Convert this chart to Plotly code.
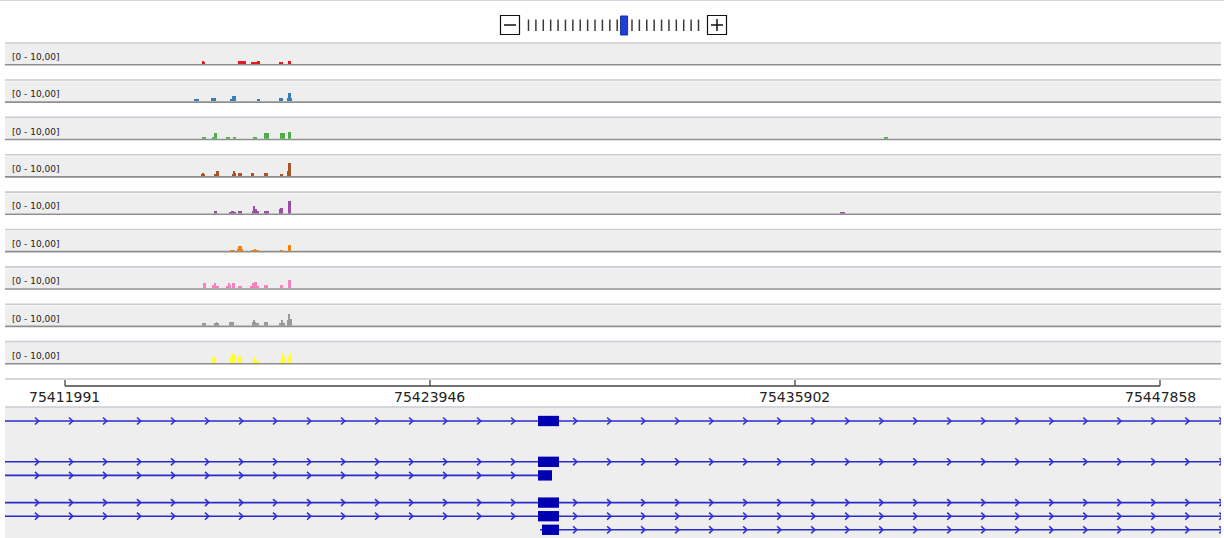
import plotly.graph_objects as go

# ---------------- data ----------------
view_start, view_end = 75410026, 75449856
ruler_ticks = [75411991, 75423946, 75435902, 75447858]
track_label = "[0 - 10,00]"
data_min, data_max = 0, 10

track_colors = ["#e41a1c", "#377eb8", "#4daf4a", "#a65628", "#984ea3",
                "#ff7f00", "#f781bf", "#999999", "#ffff33"]

# (start, end, value)
red_bins = [(75416479, 75416544, 1.7), (75416544, 75416577, 1.2),
            (75417658, 75417822, 1.7), (75417822, 75417920, 1.3),
            (75418084, 75418280, 1.2), (75418280, 75418379, 1.7),
            (75419001, 75419132, 1.2), (75419296, 75419394, 1.7)]
blue_bins = [(75416217, 75416380, 1.2), (75416774, 75416937, 1.5),
             (75417396, 75417461, 1.0), (75417461, 75417592, 2.5),
             (75418280, 75418379, 1.0), (75419001, 75419132, 1.5),
             (75419263, 75419296, 1.5), (75419296, 75419394, 4.0),
             (75419394, 75419427, 1.5)]
green_bins = [(75416479, 75416610, 0.7), (75416806, 75416872, 0.7),
              (75416872, 75416970, 2.7), (75417265, 75417396, 0.7),
              (75417494, 75417592, 0.7), (75418149, 75418280, 0.7),
              (75418510, 75418673, 2.7), (75419034, 75419197, 2.7),
              (75419296, 75419394, 3.2), (75438818, 75438949, 1.0)]
brown_bins = [(75416446, 75416479, 1.0), (75416479, 75416544, 1.5),
              (75416544, 75416577, 1.0), (75416872, 75416937, 1.0),
              (75416937, 75417036, 2.5), (75417461, 75417494, 1.0),
              (75417494, 75417560, 2.5), (75417560, 75417592, 1.5),
              (75417658, 75417789, 1.5), (75418084, 75418182, 1.5),
              (75418510, 75418641, 1.5), (75419034, 75419132, 1.0),
              (75419263, 75419296, 2.5), (75419296, 75419394, 6.5)]
purple_bins = [(75416872, 75416970, 1.5), (75417363, 75417429, 1.0),
               (75417429, 75417527, 1.5), (75417527, 75417592, 1.0),
               (75417658, 75417789, 1.5), (75418116, 75418149, 1.5),
               (75418149, 75418215, 4.0), (75418215, 75418280, 2.5),
               (75418280, 75418346, 1.5), (75418510, 75418673, 1.5),
               (75419001, 75419034, 2.5), (75419034, 75419132, 3.0),
               (75419296, 75419394, 6.5), (75437376, 75437540, 1.0)]
orange_bins = [(75417396, 75417560, 0.5), (75417625, 75417658, 1.0),
               (75417658, 75417789, 2.5), (75417789, 75417822, 1.0),
               (75418084, 75418182, 0.5), (75418182, 75418248, 1.0),
               (75418248, 75418346, 0.5), (75419034, 75419132, 0.5),
               (75419296, 75419394, 3.0)]
pink_bins = [(75416512, 75416610, 2.7), (75416806, 75416872, 1.7),
             (75416872, 75416937, 2.7), (75416937, 75417036, 1.2),
             (75417265, 75417330, 1.2), (75417330, 75417396, 2.7),
             (75417396, 75417429, 1.7), (75417461, 75417560, 2.7),
             (75417658, 75417789, 1.2), (75418051, 75418116, 1.2),
             (75418116, 75418182, 2.7), (75418182, 75418280, 3.2),
             (75418280, 75418346, 1.2), (75418510, 75418641, 1.7),
             (75419034, 75419132, 1.7), (75419296, 75419394, 4.2)]
gray_bins = [(75416479, 75416610, 1.2), (75416872, 75416937, 1.2),
             (75416937, 75416970, 1.7), (75416970, 75417036, 1.2),
             (75417363, 75417527, 1.7), (75418116, 75418149, 1.7),
             (75418149, 75418215, 2.7), (75418215, 75418248, 1.7),
             (75418248, 75418346, 1.2), (75418510, 75418641, 1.7),
             (75419001, 75419066, 1.2), (75419066, 75419132, 2.7),
             (75419132, 75419197, 1.2), (75419263, 75419296, 2.7),
             (75419296, 75419361, 5.7), (75419361, 75419427, 3.2)]
yellow_bins = [(75416806, 75416937, 3.0), (75417396, 75417461, 3.0),
               (75417461, 75417527, 5.0), (75417527, 75417592, 4.0),
               (75417625, 75417789, 3.5), (75418084, 75418149, 1.0),
               (75418149, 75418215, 3.0), (75418215, 75418346, 1.0),
               (75419001, 75419066, 1.0), (75419066, 75419132, 5.0),
               (75419132, 75419230, 3.0), (75419263, 75419328, 3.0),
               (75419328, 75419394, 5.0), (75419394, 75419427, 1.0)]

tracks = [red_bins, blue_bins, green_bins, brown_bins, purple_bins,
          orange_bins, pink_bins, gray_bins, yellow_bins]

# gene features (expanded rows)
gene_rows = [0, 3, 4, 6, 7, 8]
gene_starts = [75400000, 75400000, 75400000, 75400000, 75400000, 75427550]
gene_ends = [75460000, 75460000, 75427943, 75460000, 75460000, 75460000]
exon_starts = [75427484, 75427484, 75427484, 75427484, 75427484, 75427615]
exon_ends = [75428172, 75428172, 75427943, 75428172, 75428172, 75428172]

# ---------------- layout helpers ----------------
W, H = 1224, 538
ML, MR, MT, MB = 5, 3, 8, 0
PW, PH = W - ML - MR, H - MT - MB


def pxx(x):
    return (x - ML) / PW


def pxy(y):
    return (H - MB - y) / PH


BG = "#eeeeee"
SEP = "#cacad3"
BASE = "#8e8e8e"

fig = go.Figure()
shapes = []
annotations = []
layout_axes = {}

# ---------------- data tracks ----------------
baseline0, track_step, track_px = 64, 37.375, 20
for i, (bins, col) in enumerate(zip(tracks, track_colors)):
    b = baseline0 + track_step * i
    ax = f"yaxis{i + 2}"
    layout_axes[ax] = dict(domain=[pxy(b), pxy(b - track_px)],
                           range=[data_min, data_max], visible=False,
                           fixedrange=True)
    fig.add_trace(go.Bar(
        x=[(s + e) / 2 for s, e, v in bins],
        width=[e - s for s, e, v in bins],
        y=[v for s, e, v in bins],
        base=0, marker=dict(color=col, line=dict(width=0)),
        xaxis="x", yaxis=f"y{i + 2}", showlegend=False, hoverinfo="skip"))
    # baseline
    shapes.append(dict(type="line", xref="paper", yref="paper", x0=0, x1=1,
                       y0=pxy(b + 0.75), y1=pxy(b + 0.75),
                       line=dict(color=BASE, width=1.6), layer="below"))
    # separator under track
    ys = b + 16
    shapes.append(dict(type="line", xref="paper", yref="paper", x0=0, x1=1,
                       y0=pxy(ys), y1=pxy(ys),
                       line=dict(color=SEP, width=1.6), layer="below"))
    annotations.append(dict(text=track_label, xref="paper", yref="paper",
                            x=pxx(9.5), y=pxy(b - 7), xanchor="left",
                            yanchor="middle", showarrow=False,
                            font=dict(family="DejaVu Sans", size=9,
                                      color="#222222")))

# top separator and ruler/gene separator
for ysep in (43, 407):
    shapes.append(dict(type="line", xref="paper", yref="paper", x0=0, x1=1,
                       y0=pxy(ysep), y1=pxy(ysep),
                       line=dict(color=SEP, width=1.6), layer="below"))

# top white band edge
shapes.append(dict(type="line", xref="paper", yref="paper",
                   x0=pxx(0), x1=pxx(W), y0=pxy(0.5), y1=pxy(0.5),
                   line=dict(color="#d8d8d8", width=1)))

# ---------------- ruler ----------------
ruler_y, tick_top = 386, 380
shapes.append(dict(type="line", xref="x", yref="paper",
                   x0=ruler_ticks[0], x1=ruler_ticks[-1],
                   y0=pxy(ruler_y), y1=pxy(ruler_y),
                   line=dict(color="#444444", width=1.3)))
for t in ruler_ticks:
    shapes.append(dict(type="line", xref="x", yref="paper", x0=t, x1=t,
                       y0=pxy(ruler_y), y1=pxy(tick_top),
                       line=dict(color="#444444", width=1.3)))
    annotations.append(dict(text=str(t), xref="x", yref="paper", x=t,
                            y=pxy(396.5), xanchor="center", yanchor="middle",
                            showarrow=False,
                            font=dict(family="DejaVu Sans", size=14,
                                      color="#222222")))

# ---------------- zoom widget ----------------
shapes.append(dict(type="rect", xref="paper", yref="paper",
                   x0=pxx(500.5), x1=pxx(519.5), y0=pxy(15.5), y1=pxy(34.5),
                   line=dict(color="#111111", width=1.2)))
shapes.append(dict(type="line", xref="paper", yref="paper",
                   x0=pxx(504), x1=pxx(516), y0=pxy(25), y1=pxy(25),
                   line=dict(color="#111111", width=1.5)))
shapes.append(dict(type="rect", xref="paper", yref="paper",
                   x0=pxx(707.5), x1=pxx(726.5), y0=pxy(15.5), y1=pxy(34.5),
                   line=dict(color="#111111", width=1.2)))
shapes.append(dict(type="line", xref="paper", yref="paper",
                   x0=pxx(711), x1=pxx(723), y0=pxy(25), y1=pxy(25),
                   line=dict(color="#111111", width=1.5)))
shapes.append(dict(type="line", xref="paper", yref="paper",
                   x0=pxx(717), x1=pxx(717), y0=pxy(19), y1=pxy(31),
                   line=dict(color="#111111", width=1.5)))
n_zoom, zoom_level = 24, 13
for k in range(n_zoom):
    xx = 528.5 + k * (170 / (n_zoom - 1))
    if k == zoom_level:
        shapes.append(dict(type="rect", xref="paper", yref="paper",
                           x0=pxx(xx - 4), x1=pxx(xx + 3), y0=pxy(16),
                           y1=pxy(35), fillcolor="#1f3fd6",
                           line=dict(color="#1530a8", width=1)))
    else:
        shapes.append(dict(type="line", xref="paper", yref="paper",
                           x0=pxx(xx), x1=pxx(xx), y0=pxy(19.5), y1=pxy(31),
                           line=dict(color="#3a3a3a", width=1.5)))

# ---------------- genes ----------------
row_top_px, row_px = 421, 13.6
g_lo = (407 - row_top_px) / row_px
g_hi = (H - row_top_px) / row_px
layout_axes["yaxis"] = dict(domain=[0, pxy(407)], range=[g_hi, g_lo],
                            visible=False, fixedrange=True)

arrow_step, left_off, right_off = 1114, 819, 524
arrow_half_w, arrow_half_h = 62, 0.26
for r, gs, ge, es, ee in zip(gene_rows, gene_starts, gene_ends,
                             exon_starts, exon_ends):
    fig.add_trace(go.Scatter(x=[gs, ge], y=[r, r], mode="lines",
                             line=dict(color="#2b2bcc", width=1.6),
                             xaxis="x", yaxis="y", showlegend=False,
                             hoverinfo="skip"))
    cx = []
    c = es - left_off
    while c > max(gs, view_start - arrow_step):
        cx.append(c)
        c -= arrow_step
    c = ee + right_off
    while c < min(ge, view_end + arrow_step):
        cx.append(c)
        c += arrow_step
    ax_, ay_ = [], []
    for c in cx:
        ax_ += [c - arrow_half_w, c + arrow_half_w, c - arrow_half_w, None]
        ay_ += [r - arrow_half_h, r, r + arrow_half_h, None]
    fig.add_trace(go.Scatter(x=ax_, y=ay_, mode="lines",
                             line=dict(color="#2f2fe0", width=1.6),
                             xaxis="x", yaxis="y", showlegend=False,
                             hoverinfo="skip"))
    shapes.append(dict(type="rect", xref="x", yref="y", x0=es, x1=ee,
                       y0=r - 0.38, y1=r + 0.38, fillcolor="#0000b2",
                       line=dict(width=0)))

fig.update_layout(
    width=W, height=H,
    margin=dict(l=ML, r=MR, t=MT, b=MB, pad=0),
    paper_bgcolor="white", plot_bgcolor=BG,
    barmode="overlay", bargap=0,
    xaxis=dict(range=[view_start, view_end], visible=False, fixedrange=True),
    shapes=shapes, annotations=annotations,
    showlegend=False,
    **layout_axes,
)

fig.write_html("out.html",
               config={"displayModeBar": False, "staticPlot": True},
               post_script="document.body.style.margin='0';"
                           "document.body.style.overflow='hidden';")
